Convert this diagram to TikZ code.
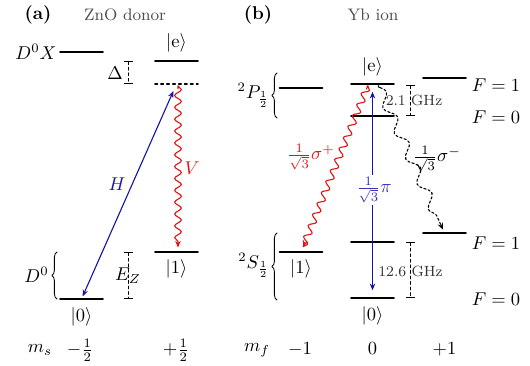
\documentclass[tikz,border=0pt]{standalone}
\usetikzlibrary{arrows.meta,calc,decorations.pathmorphing,decorations.pathreplacing}

\definecolor{hblue}{RGB}{20,20,165}
\definecolor{vred}{RGB}{225,20,20}

\tikzset{
  level/.style={line width=0.95pt},
  virt/.style={line width=0.95pt, dash pattern=on 1.3pt off 1.9pt},
  gap/.style={line width=0.45pt, dash pattern=on 1.6pt off 1.4pt,
              {Bar[width=5pt]}-{Bar[width=5pt]}},
  wave/.style={decorate, decoration={snake, segment length=6.4pt,
               amplitude=1.8pt, pre length=1pt, post length=3pt}},
  bigwave/.style={decorate, decoration={snake, segment length=15pt,
                  amplitude=2.7pt, pre length=1pt, post length=4pt},
                  dash pattern=on 1.2pt off 1.2pt, line width=0.6pt},
  lbrace/.style={decorate, decoration={brace, amplitude=2.8pt}, line width=0.45pt},
  ghz/.style={font=\footnotesize, text=black!80, inner sep=0pt},
  title/.style={font=\small, text=black!70},
}

\begin{document}
\begin{tikzpicture}[x=0.54pt, y=-0.54pt, >={Stealth[length=3.6pt,width=3pt]},
                    line width=0.6pt, line cap=round, line join=round]
  \useasboundingbox (0,0) rectangle (530,366);

  % Levels: name/x/y (centre of each 43 wide bar)
  \foreach \n/\x/\y in {dx/81.5/52, ae/176.5/61, a1/176.5/252, a0/81.5/299,
                        pm/301/88, be/372.5/84, pp/444.5/78, p0/372.5/116,
                        b1/301/252, s0/372.5/242, sp/444.5/233, b0/372.5/298} {
    \coordinate (\n) at (\x,\y);
    \draw[level] (\x-21.5,\y) -- (\x+21.5,\y);
  }

  % Virtual level below |e> (panel a)
  \coordinate (av) at (176.5,84);
  \draw[virt] (155,84) -- (198,84);

  % Splittings
  \coordinate (dt) at (128.5,61);  \coordinate (db) at (128.5,84);
  \coordinate (zt) at (128.5,252); \coordinate (zb) at (128.5,299);
  \coordinate (pt) at (410.5,85);  \coordinate (pb) at (410.5,116);
  \coordinate (st) at (410.5,242); \coordinate (sb) at (410.5,298);
  \draw[gap] (dt) -- (db);
  \draw[gap] (zt) -- (zb);
  \draw[gap] (pt) -- (pb);
  \draw[gap] (st) -- (sb);

  % Transitions (panel a)
  \draw[<->, hblue, shorten <=4.2pt, shorten >=1.6pt] (av) -- (a0);
  \draw[->, vred, wave, shorten <=2.5pt, shorten >=2.4pt] ($(av)+(1.5,0)$) -- ($(a1)+(1.5,0)$);

  % Transitions (panel b)
  \draw[<->, hblue, shorten <=4.2pt, shorten >=4.2pt] (be) -- (b0);
  \draw[->, vred, wave, shorten <=3pt, shorten >=3pt] ($(be)+(-4,0)$) -- (b1);
  \draw[->, bigwave, shorten <=2pt, shorten >=2pt] ($(be)+(5,0)$) -- (sp);

  % Braces
  \coordinate (d0t) at (57,252);  \coordinate (d0b) at (57,299);
  \coordinate (p2t) at (277,73);  \coordinate (p2b) at (277,118);
  \coordinate (s2t) at (277,233); \coordinate (s2b) at (277,300);
  \draw[lbrace] (d0b) -- (d0t);
  \draw[lbrace] (p2b) -- (p2t);
  \draw[lbrace] (s2b) -- (s2t);

  % Titles
  \node[font=\bfseries] (ta) at (38,15) {(a)};
  \node[title] (tza) at (125,15) {ZnO donor};
  \node[font=\bfseries] (tb) at (258,15) {(b)};
  \node[title] (tyb) at (373,15) {Yb ion};

  % Labels (panel a)
  \node[anchor=east, inner sep=0pt] (ldx) at (57,52) {$D^0X$};
  \node (lae) at (176.5,43) {$|\mathrm{e}\rangle$};
  \node (la1) at (176.5,269) {$|1\rangle$};
  \node (la0) at (81.5,317) {$|0\rangle$};
  \node (ldel) at (115,73) {$\Delta$};
  \node[inner sep=0pt] (lez) at (128,276) {$E_Z$};
  \node[anchor=east, inner sep=1pt] (ld0) at (51,275) {$D^0$};
  \node[hblue] (lh) at (117,184) {$H$};
  \node[vred] (lv) at (192,168) {$V$};

  % Labels (panel b)
  \node (lbe) at (372.5,67) {$|\mathrm{e}\rangle$};
  \node (lb1) at (301,269) {$|1\rangle$};
  \node (lb0) at (372.5,316) {$|0\rangle$};
  \node[anchor=east, inner sep=1pt] (lp2) at (272,95) {$^2P_{\frac{1}{2}}$};
  \node[anchor=east, inner sep=1pt] (ls2) at (272,265) {$^2S_{\frac{1}{2}}$};
  \node[ghz] (l21) at (414,100) {2.1 GHz};
  \node[ghz] (l126) at (410.5,271) {12.6 GHz};
  \node[vred] (lsp) at (311,157) {$\frac{1}{\sqrt{3}}\sigma^+$};
  \node[fill=white, text=hblue!85, inner sep=1pt] (lpi) at (374,190) {$\frac{1}{\sqrt{3}}\pi$};
  \node (lsm) at (437,159) {$\frac{1}{\sqrt{3}}\sigma^-$};
  \node (f1p) at (496,85) {$F=1$};
  \node (f0p) at (496,117) {$F=0$};
  \node (f1s) at (496,243) {$F=1$};
  \node (f0s) at (496,299) {$F=0$};

  % Quantum numbers
  \node (ms) at (40,350) {$m_s$};
  \node (msm) at (80,350) {$-\frac{1}{2}$};
  \node (msp) at (176,350) {$+\frac{1}{2}$};
  \node (mf) at (257,350) {$m_f$};
  \node (mfm) at (300,349) {$-1$};
  \node (mf0) at (372.5,349) {$0$};
  \node (mfp) at (444.5,349) {$+1$};
\end{tikzpicture}
\end{document}
